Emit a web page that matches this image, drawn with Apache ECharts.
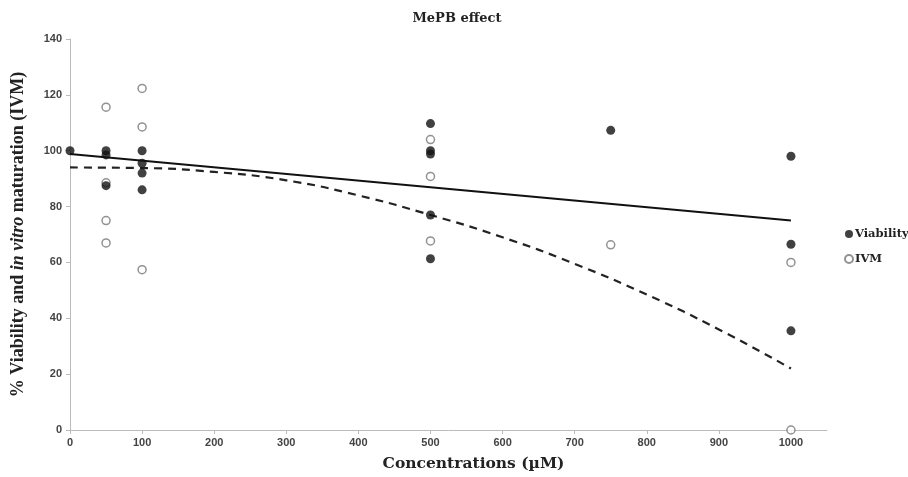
<!DOCTYPE html>
<html>
<head>
<meta charset="utf-8">
<script src="https://cdn.jsdelivr.net/npm/echarts@6/dist/echarts.min.js"></script>
<style>html,body{margin:0;padding:0;background:#fff}#c{width:908px;height:477px}</style>
</head>
<body>
<div id="c"></div>
<script>
const xTicks = [0,100,200,300,400,500,600,700,800,900,1000];
const viabilityX = [0,50,50,50,100,100,100,100,500,500,500,500,500,750,1000,1000,1000];
const viabilityY = [100,100,98.5,87.5,100,95.5,92,86,109.7,100,98.8,77,61.3,107.3,98,66.5,35.5];
const ivmX = [50,50,50,50,100,100,100,500,500,500,750,1000,1000];
const ivmY = [115.6,88.5,75,67,122.3,108.5,57.4,104,90.8,67.7,66.3,60,0];
const viabTrendX = [0,1000];
const viabTrendY = [98.8,75];
const ivmTrendX = [0,100,200,300,400,500,600,700,800,900,1000];
const ivmTrendY = [94,93.8,92.4,89.4,84,77,69,59.5,48.5,36,22];

const zip = (a,b)=>a.map((v,i)=>[v,b[i]]);
const serif = '"Liberation Serif", "DejaVu Serif", serif';
const wideSerif = '"DejaVu Serif", "Liberation Serif", serif';
const sans = '"Liberation Sans", Arial, sans-serif';

const chart = echarts.init(document.getElementById('c'), null, {renderer:'canvas'});
chart.setOption({
  animation:false,
  backgroundColor:'#fff',
  title:{text:'MePB effect', left:452, top:7, textAlign:'center',
    textStyle:{fontFamily:wideSerif, fontWeight:'bold', fontSize:13, color:'#222'}},
  legend:{
    orient:'vertical', left:839, top:223, itemGap:13, itemWidth:8, itemHeight:8,
    data:['Viability','IVM'],
    textStyle:{fontFamily:wideSerif, fontWeight:'bold', fontSize:11.5, color:'#222', padding:[0,0,0,-3]}
  },
  grid:{left:70, right:81, top:39, bottom:43, containLabel:false},
  xAxis:{
    type:'value', min:0, max:1050, interval:100,
    name:'Concentrations (µM)', nameLocation:'middle', nameGap:26,
    nameTextStyle:{fontFamily:wideSerif, fontWeight:'bold', fontSize:15.5, color:'#222', padding:[0,0,0,50]},
    axisLine:{show:true, lineStyle:{color:'#bbb'}},
    axisTick:{show:true, length:4, lineStyle:{color:'#bbb'}},
    splitLine:{show:false},
    axisLabel:{fontFamily:sans, fontWeight:'bold', fontSize:11, color:'#444', margin:7, showMaxLabel:false,
      formatter:v=> (v%100===0 ? String(v) : '')}
  },
  yAxis:{
    type:'value', min:0, max:140, interval:20,
    name:'{a|% Viability and }{b|in vitro}{a| maturation (IVM)}',
    nameLocation:'middle', nameGap:43, nameRotate:90,
    nameTextStyle:{rich:{
      a:{fontFamily:serif, fontWeight:'bold', fontSize:18, color:'#222'},
      b:{fontFamily:serif, fontWeight:'bold', fontStyle:'italic', fontSize:18, color:'#222'}
    }},
    axisLine:{show:true, lineStyle:{color:'#bbb'}},
    axisTick:{show:true, length:4, lineStyle:{color:'#bbb'}},
    splitLine:{show:false},
    axisLabel:{fontFamily:sans, fontWeight:'bold', fontSize:11, color:'#444', margin:8}
  },
  series:[
    {name:'Viability trend', type:'line', data:zip(viabTrendX,viabTrendY), showSymbol:false, silent:true,
      lineStyle:{color:'#111', width:2}, z:2},
    {name:'IVM trend', type:'line', data:zip(ivmTrendX,ivmTrendY), showSymbol:false, smooth:true, silent:true,
      lineStyle:{color:'#222', width:2.2, type:[8,6]}, z:2},
    {name:'IVM', type:'scatter', data:zip(ivmX,ivmY), symbol:'circle', symbolSize:8, clip:false,
      itemStyle:{color:'#fff', borderColor:'#777', borderWidth:1.5}, z:3},
    {name:'Viability', type:'scatter', data:zip(viabilityX,viabilityY), symbol:'circle', symbolSize:9, clip:false,
      itemStyle:{color:'#111'}, z:4}
  ]
});
</script>
</body>
</html>
